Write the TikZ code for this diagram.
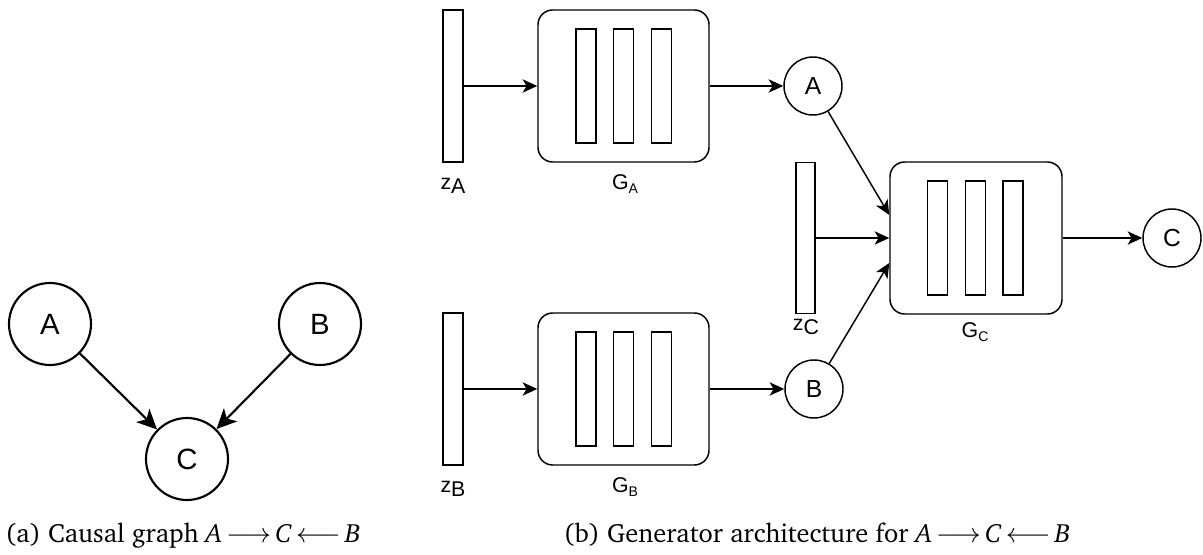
\documentclass[tikz,border=0pt]{standalone}
\usepackage[T1]{fontenc}
\usepackage{fontspec}
\setmainfont{Liberation Sans}
\usetikzlibrary{arrows.meta,calc}
\newcommand\capfont{\fontencoding{T1}\fontfamily{bch}\fontsize{19.8}{23}\selectfont}
\begin{document}
\begin{tikzpicture}[x=0.75pt,y=-0.75pt,
  bigcirc/.style={circle,draw,line width=1.6pt,minimum size=61.5pt,inner sep=0pt,font=\fontsize{22}{26}\selectfont},
  smallcirc/.style={circle,draw,line width=1.1pt,minimum size=43.5pt,inner sep=0pt,font=\fontsize{18.5}{22}\selectfont},
  bigarrow/.style={line width=1.6pt,-{Stealth[length=15pt,width=14pt,inset=4pt]}},
  arr/.style={line width=1.1pt,-{Stealth[length=11pt,width=10pt,inset=3pt]}},
  gbox/.style={draw,line width=1.1pt,rounded corners=11pt,minimum width=128.25pt,minimum height=114pt,inner sep=0pt},
  bar/.style={draw,line width=1.1pt,minimum width=15pt,minimum height=85.5pt,inner sep=0pt},
  zrect/.style={draw,line width=1.1pt,minimum width=15pt,minimum height=114pt,inner sep=0pt},
  zlab/.style={inner sep=0pt,font=\fontsize{16}{19}\selectfont},
  glab/.style={inner sep=0pt,font=\fontsize{16}{19}\selectfont},
  caption/.style={inner sep=0pt,anchor=base,font=\capfont}]
\useasboundingbox (0,0) rectangle (1203,555);
% (a)
\node[bigcirc] (a) at (50,324) {A};
\node[bigcirc] (b) at (320,324) {B};
\node[bigcirc] (c) at (187,459) {C};
\draw[bigarrow] (a) -- (c);
\draw[bigarrow] (b) -- (c);
\node[caption] (capa) at (183,542) {(a) Causal graph \textit{A}\,$\longrightarrow$\,\textit{C}\,$\longleftarrow$\,\textit{B}};
% (b) generator A
\node[zrect] (zA) at (453,86) {};
\node[zlab] (zAl) at (453,186) {z\raisebox{-0.3ex}{A}};
\node[gbox] (GA) at (623.5,86) {};
\node[bar] (GA1) at (586,86) {};
\node[bar] (GA2) at (623.5,86) {};
\node[bar] (GA3) at (661.5,86) {};
\node[glab] (GAl) at (625,184) {G\raisebox{-0.35ex}{\fontsize{10.5}{12}\selectfont A}};
\node[smallcirc] (nA) at (813,86) {A};
\draw[arr] (zA) -- (GA);
\draw[arr] (GA) -- (nA);
% generator B
\node[zrect] (zB) at (453,389) {};
\node[zlab] (zBl) at (453,489) {z\raisebox{-0.3ex}{B}};
\node[gbox] (GB) at (623.5,389) {};
\node[bar] (GB1) at (586,389) {};
\node[bar] (GB2) at (623.5,389) {};
\node[bar] (GB3) at (661.5,389) {};
\node[glab] (GBl) at (625,487) {G\raisebox{-0.35ex}{\fontsize{10.5}{12}\selectfont B}};
\node[smallcirc] (nB) at (814,389) {B};
\draw[arr] (zB) -- (GB);
\draw[arr] (GB) -- (nB);
% generator C
\node[zrect,minimum width=14.25pt,minimum height=113.25pt] (zC) at (805.5,238) {};
\node[zlab] (zCl) at (806,327) {z\raisebox{-0.3ex}{C}};
\node[gbox,minimum width=129pt] (GC) at (976,238) {};
\node[bar] (GC1) at (937.5,238) {};
\node[bar] (GC2) at (975.5,238) {};
\node[bar] (GC3) at (1013,238) {};
\node[glab] (GCl) at (975,332) {G\raisebox{-0.35ex}{\fontsize{10.5}{12}\selectfont C}};
\node[smallcirc] (nC) at (1172,238) {C};
\coordinate (inA) at ($(GC.west)+(0,-23)$);
\coordinate (inB) at ($(GC.west)+(0,25)$);
\draw[arr] (zC) -- (GC);
\draw[arr] (nA) -- (inA);
\draw[arr] (nB) -- (inB);
\draw[arr] (GC) -- (nC);
\node[caption] (capb) at (817,542) {(b) Generator architecture for \textit{A}\,$\longrightarrow$\,\textit{C}\,$\longleftarrow$\,\textit{B}};
\end{tikzpicture}
\end{document}
